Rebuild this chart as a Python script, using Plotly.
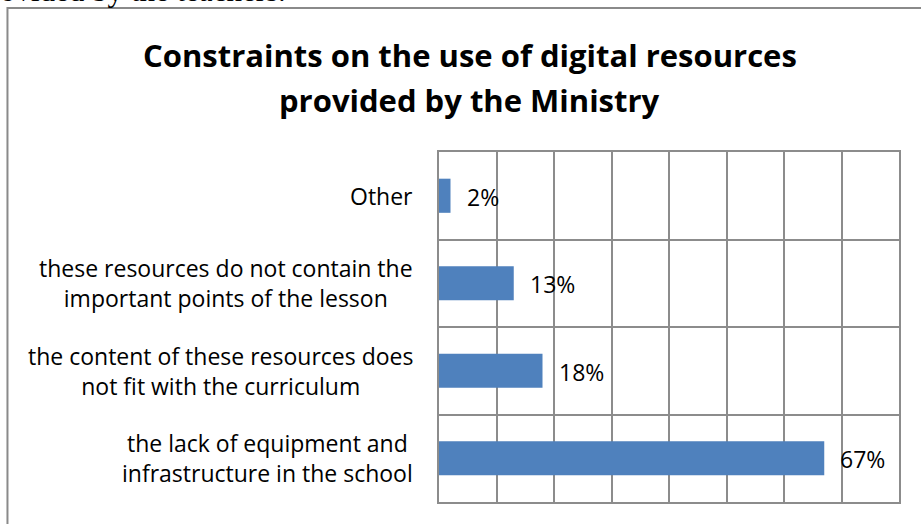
import plotly.graph_objects as go

# Survey responses: share of teachers citing each constraint
categories = [
    "the lack of equipment and<br>infrastructure in the school",
    "the content of these resources does<br>not fit with the curriculum",
    "these resources do not contain the<br>important points of the lesson",
    "Other",
]
shares = [67, 18, 13, 2]
value_labels = ["67%", "18%", "13%", "2%"]

title_lines = [
    "Constraints on the use of digital resources",
    "provided by the Ministry",
]

W, H = 921, 524
PL, PR, PT, PB = 439, 899.5, 152, 502  # plot area in pixels

BAR = "#4F81BD"
GRID = "#8C8C8C"
LABEL_FONT = "Open Sans"


def px(x):
    return (x - PL) / (PR - PL)


def py(y):
    return (PB - y) / (PB - PT)


fig = go.Figure(
    go.Bar(
        x=shares,
        y=categories,
        orientation="h",
        marker=dict(color=BAR, line=dict(width=0)),
        width=0.39,
        hoverinfo="skip",
    )
)

annotations = []
# category labels, right-aligned block with centred lines
for cat in categories:
    annotations.append(
        dict(
            x=0, xref="paper", y=cat, yref="y",
            text=cat, showarrow=False,
            xanchor="right", yanchor="middle", align="center",
            xshift=-24,
            font=dict(family=LABEL_FONT, size=23, color="#000000"),
        )
    )
# value labels beside each bar
for cat, v, lab in zip(categories, shares, value_labels):
    annotations.append(
        dict(
            x=v, xref="x", y=cat, yref="y",
            text=lab, showarrow=False,
            xanchor="left", yanchor="middle",
            xshift=14, yshift=-1,
            font=dict(family=LABEL_FONT, size=23, color="#000000"),
        )
    )
# two-line bold title
for i, line in enumerate(title_lines):
    annotations.append(
        dict(
            x=px(470), xref="paper", y=py(55 + i * 45), yref="paper",
            text="<b>" + line + "</b>", showarrow=False,
            xanchor="center", yanchor="middle",
            font=dict(family=LABEL_FONT, size=31, color="#000000"),
        )
    )
# tail of the preceding sentence on the page
annotations.append(
    dict(
        x=px(-2), xref="paper", y=py(-10), yref="paper",
        text="ovided by the teachers.", showarrow=False,
        xanchor="left", yanchor="middle",
        font=dict(family="Liberation Serif", size=31, color="#000000"),
    )
)

fig.update_layout(
    width=W, height=H,
    margin=dict(l=PL, r=W - PR, t=PT, b=H - PB, pad=0),
    paper_bgcolor="white", plot_bgcolor="white",
    showlegend=False,
    bargap=0.61,
    annotations=annotations,
    shapes=[
        dict(
            type="rect", xref="paper", yref="paper",
            x0=px(7), x1=px(940), y0=py(560), y1=py(8),
            line=dict(color="#8A8A8A", width=2), fillcolor="rgba(0,0,0,0)",
            layer="below",
        )
    ],
    xaxis=dict(
        range=[0, 80], dtick=10, tick0=0,
        showgrid=True, gridcolor=GRID, gridwidth=2,
        showline=True, mirror=True, linecolor=GRID, linewidth=2,
        showticklabels=False, ticks="", zeroline=False, fixedrange=True,
    ),
    yaxis=dict(
        type="category", tickson="boundaries",
        showgrid=True, gridcolor=GRID, gridwidth=2,
        showline=True, mirror=True, linecolor=GRID, linewidth=2,
        showticklabels=False, ticks="", fixedrange=True,
    ),
)

fig.write_html("out.html", config={"displayModeBar": False})
